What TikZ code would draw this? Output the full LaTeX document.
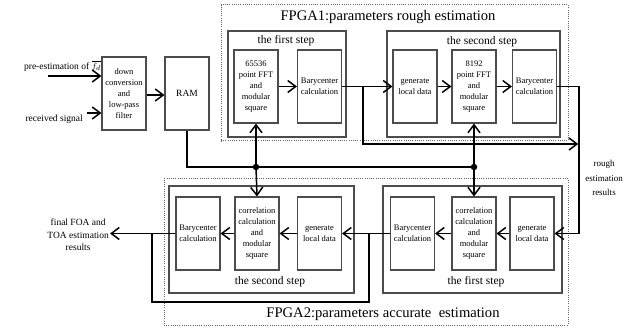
\documentclass[tikz,border=0pt]{standalone}
\usepackage{fontspec}
\setmainfont{Liberation Serif}
\usetikzlibrary{arrows.meta,fit}

\begin{document}
\begin{tikzpicture}[x=1pt,y=-1pt,
  blk/.style={draw=black!70, line width=1.1pt, minimum width=44pt, minimum height=73pt,
    inner sep=0pt, align=center, font=\fontsize{8.5}{11}\selectfont},
  frame/.style={draw=black!70, line width=1.1pt, inner sep=0pt},
  dotbox/.style={draw=black!60, line width=1pt, dash pattern=on 1pt off 1.2pt, inner sep=0pt},
  ln/.style={line width=1.5pt},
  arr/.style={ln, -{Straight Barb[length=8pt,width=12pt,line width=1.5pt]}},
  steplbl/.style={font=\fontsize{11.5}{13}\selectfont, inner sep=0pt},
  fpgalbl/.style={font=\fontsize{14.6}{16}\selectfont, inner sep=0pt},
  sidelbl/.style={font=\fontsize{9.5}{12}\selectfont, align=center, inner sep=1pt},
  dot/.style={circle, fill=black, inner sep=0pt, minimum size=6.5pt}]

\useasboundingbox (0,0) rectangle (633,329);

% ---- front end ----
\node[blk] (dc) at (124,93.5) {down\\conversion\\and\\low-pass\\filter};
\node[blk, font=\fontsize{9.5}{11}\selectfont] (ram) at (187,93.5) {RAM};
\node[sidelbl, anchor=east] (pre) at (102,66) {pre-estimation of $\overline{f_d}$};
\node[sidelbl, anchor=east] (rcv) at (84,119) {received signal};
\coordinate (in1) at (48,76);
\coordinate (in2) at (87,113);

% ---- FPGA1: rough estimation ----
\node[dotbox, fit={(221,5) (568,141)}] (fpga1) {};
\node[fpgalbl] (t1) at (388,17) {FPGA1:parameters rough estimation};
\node[frame, fit={(228,31) (346,137)}] (r1) {};
\node[steplbl] (r1l) at (286,40.5) {the first step};
\node[blk] (fft1) at (256,86.5) {65536\\point FFT\\and\\modular\\square};
\node[blk] (bc1) at (319.5,86.5) {Barycenter\\calculation};
\node[frame, fit={(387,31) (560,137)}] (r2) {};
\node[steplbl] (r2l) at (482,41.5) {the second step};
\node[blk] (gl1) at (415,86.5) {generate\\local data};
\node[blk] (fft2) at (474,86.5) {8192\\point FFT\\and\\modular\\square};
\node[blk] (bc2) at (534.5,86.5) {Barycenter\\calculation};

% ---- FPGA2: accurate estimation ----
\node[dotbox, fit={(164,179) (568,325)}] (fpga2) {};
\node[fpgalbl] (t2) at (383,314) {FPGA2:parameters accurate\ \ estimation};
\node[frame, fit={(169,186) (354,293)}] (a2) {};
\node[steplbl] (a2l) at (270,282) {the second step};
\node[blk] (bc4) at (198,233.5) {Barycenter\\calculation};
\node[blk] (corr2) at (257,233.5) {correlation\\calculation\\and\\modular\\square};
\node[blk] (gl3) at (319.5,233.5) {generate\\local data};
\node[frame, fit={(383,186) (562,293)}] (a1) {};
\node[steplbl] (a1l) at (476,282) {the first step};
\node[blk] (bc3) at (412.5,233.5) {Barycenter\\calculation};
\node[blk] (corr1) at (474,233.5) {correlation\\calculation\\and\\modular\\square};
\node[blk] (gl2) at (532,233.5) {generate\\local data};

\node[sidelbl, font=\fontsize{9}{14.5}\selectfont] (rough) at (604,178) {rough\\estimation\\results};
\node[sidelbl, anchor=east, font=\fontsize{9.5}{12.5}\selectfont] (fin) at (110,235) {final FOA and\\TOA estimation\\results};

% ---- junctions ----
\node[dot] (d1) at (256,167) {};
\node[dot] (d2) at (474,167) {};
\coordinate (j1) at (363,86.5);
\coordinate (c1) at (579,86.5);
\coordinate (c2) at (579,144);
\coordinate (j2) at (369,233.5);
\coordinate (j3) at (152,233.5);

% ---- connectors ----
\draw[arr] (in1) -- (in1 -| dc.west);
\draw[arr] (in2) -- (in2 -| dc.west);
\draw[arr] (dc.east |- 0,95) -- (ram.west |- 0,95);
\draw[ln] (ram.south) |- (d2.center);
\draw[arr] (d1.center) -- (fft1.south);
\draw[arr] (d1.center) -- (corr2.north);
\draw[arr] (d2.center) -- (fft2.south);
\draw[arr] (d2.center) -- (corr1.north);

\draw[arr] (fft1) -- (bc1);
\draw[arr] (bc1) -- (gl1);
\draw[arr] (j1) |- ([xshift=-0.75pt]c2);
\draw[arr] (gl1) -- (fft2);
\draw[arr] (fft2) -- (bc2);
\draw[arr] (bc2.east) -- (c1) |- (gl2.east);

\draw[arr] (gl2) -- (corr1);
\draw[arr] (corr1) -- (bc3);
\draw[arr] (bc3) -- (gl3);
\draw[ln] (j2) -- ++(0,68.5) -| (j3);
\draw[arr] (gl3) -- (corr2);
\draw[arr] (corr2) -- (bc4);
\draw[arr] (bc4.west) -- (fin.east |- bc4.west);
\end{tikzpicture}
\end{document}
